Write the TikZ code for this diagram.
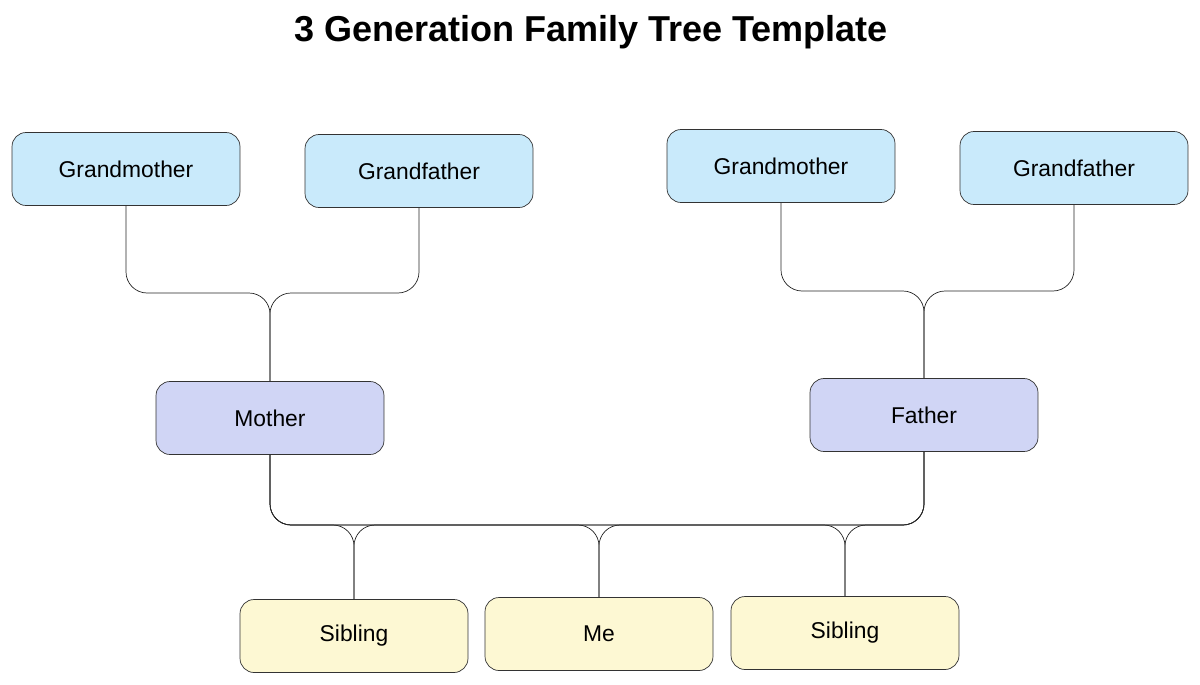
\documentclass[tikz,border=0pt]{standalone}
\usepackage{fontspec}
\setmainfont{Liberation Sans}
\usetikzlibrary{positioning}
\definecolor{gpblue}{HTML}{C9EAFB}
\definecolor{parpurple}{HTML}{D0D5F5}
\definecolor{kidyellow}{HTML}{FDF8D3}
\tikzstyle{box} = [rectangle, rounded corners=8pt, minimum width=4.56cm, minimum height=1.46cm, text centered, draw=black!80, thin]
\tikzstyle{line} = [black!85, thin, rounded corners=12pt]
\tikzstyle{every node}=[font=\fontsize{13}{15}\selectfont]

\begin{document}
\begin{tikzpicture}[x=0.02cm, y=-0.02cm]
\useasboundingbox (0,0) rectangle (1200,684);

\node (title) at (591,32) {\fontsize{20.5}{24}\selectfont\bfseries 3 Generation Family Tree Template};

\node (gm1) [box, fill=gpblue] at (126,169) {Grandmother};
\node (gf1) [box, fill=gpblue] at (419,171) {Grandfather};
\node (gm2) [box, fill=gpblue] at (781,166) {Grandmother};
\node (gf2) [box, fill=gpblue] at (1074,168) {Grandfather};
\node (mother) [box, fill=parpurple] at (270,418) {Mother};
\node (father) [box, fill=parpurple] at (924,415) {Father};
\node (sib1) [box, fill=kidyellow] at (354,636) {Sibling};
\node (me) [box, fill=kidyellow] at (599,634) {Me};
\node (sib2) [box, fill=kidyellow] at (845,633) {Sibling};

\coordinate (jm) at (270,293);
\coordinate (jf) at (924,291);
\coordinate (jk) at (599,525);

\draw [line] (gm1.south) |- (jm) -- (mother.north);
\draw [line] (gf1.south) |- (jm) -- (mother.north);
\draw [line] (gm2.south) |- (jf) -- (father.north);
\draw [line] (gf2.south) |- (jf) -- (father.north);
\foreach \kid in {sib1, me, sib2}{
  \draw [line] (mother.south) |- (\kid.north |- jk) -- (\kid.north);
  \draw [line] (father.south) |- (\kid.north |- jk) -- (\kid.north);
}

\end{tikzpicture}
\end{document}
